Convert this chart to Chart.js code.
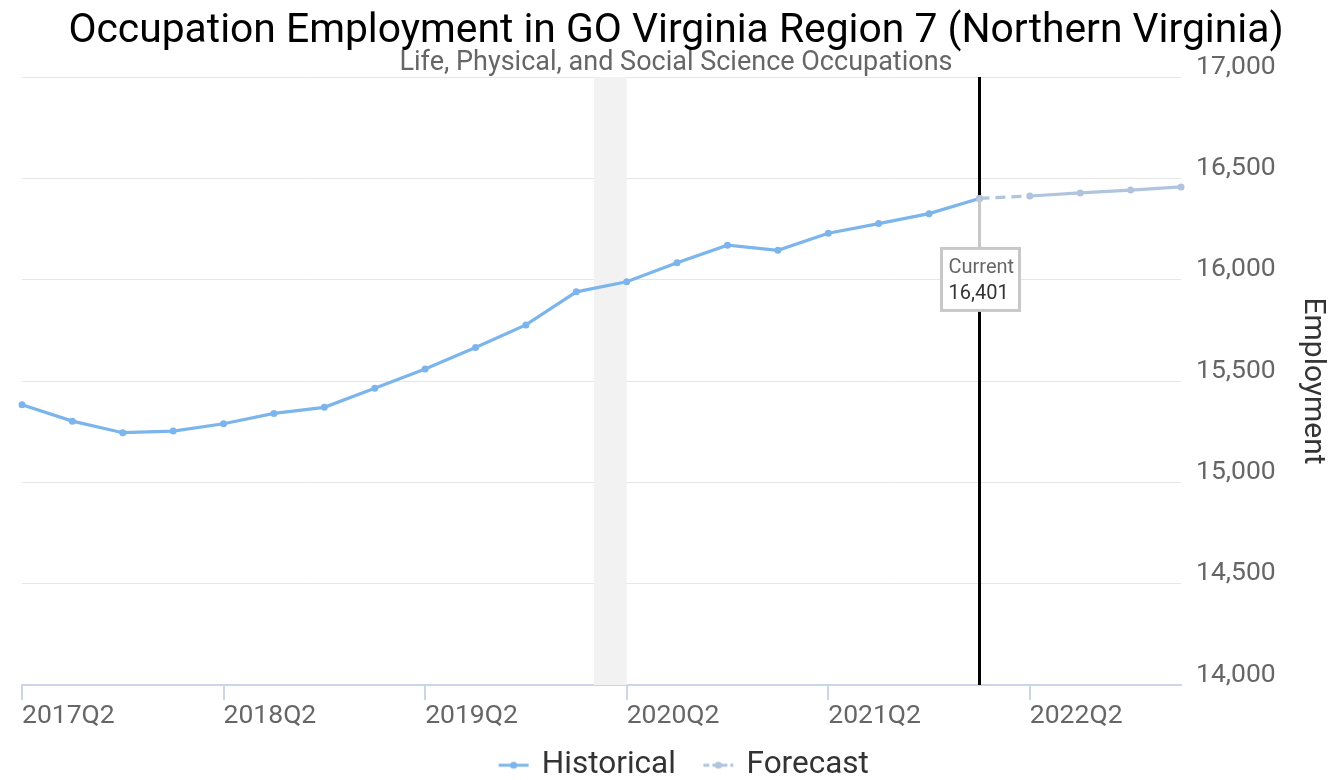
<!DOCTYPE html>
<html>
<head>
<meta charset="utf-8">
<script src="https://cdn.jsdelivr.net/npm/chart.js@4"></script>
<style>
  html, body { margin: 0; padding: 0; background: #fff; }
  #wrap { width: 1330px; height: 780px; }
</style>
</head>
<body>
<div id="wrap"><canvas id="empChart" width="1330" height="780"></canvas></div>
<script>
/* ================= DATA ================= */

const quarters = [
  "2017Q2", "2017Q3", "2017Q4", "2018Q1", "2018Q2", "2018Q3", "2018Q4", "2019Q1",
  "2019Q2", "2019Q3", "2019Q4", "2020Q1", "2020Q2", "2020Q3", "2020Q4", "2021Q1",
  "2021Q2", "2021Q3", "2021Q4", "2022Q1", "2022Q2", "2022Q3", "2022Q4", "2023Q1"
];

const historical = [
  15383, 15302, 15245, 15253, 15289, 15340, 15370, 15464,
  15559, 15665, 15777, 15940, 15990, 16084, 16170, 16145,
  16229, 16277, 16326, 16401
];

// starts at the last historical quarter
const forecast = [16401, 16413, 16428, 16442, 16458];

const yTicks = [14000, 14500, 15000, 15500, 16000, 16500, 17000];

// recession shading, in quarter-index units (Feb 2020 -> Apr 2020)
const recessionBand = [11.35, 12];

const currentIndex = historical.length - 1;

/* ================= HELPERS ================= */

const histColor = "#7cb5ec";
const foreColor = "#b0c4de";

const histData = quarters.map((q, i) => (i < historical.length ? historical[i] : null));
const foreData = quarters.map((q, i) => {
  const k = i - currentIndex;
  return k >= 0 && k < forecast.length ? forecast[k] : null;
});

// legend marker: transparent lead-in on the left gives the gap between items
function legendSymbol(color, dashed) {
  const c = document.createElement("canvas");
  c.width = 60;
  c.height = 10;
  const g = c.getContext("2d");
  const x0 = 24, x1 = 54;
  g.strokeStyle = color;
  g.lineWidth = 3;
  if (dashed) g.setLineDash([6, 3]);
  g.beginPath();
  g.moveTo(x0, 5);
  g.lineTo(x1, 5);
  g.stroke();
  g.fillStyle = color;
  g.beginPath();
  g.arc((x0 + x1) / 2, 5, 3.5, 0, Math.PI * 2);
  g.fill();
  return c;
}

const symbols = [legendSymbol(histColor, false), legendSymbol(foreColor, true)];

/* ================= PLUGINS ================= */

const overlayPlugin = {
  id: "overlay",
  beforeDatasetsDraw(chart) {
    const { ctx, chartArea, scales } = chart;
    const x = scales.x;

    // recession band
    const b0 = x.getPixelForValue(recessionBand[0]);
    const b1 = x.getPixelForValue(recessionBand[1]);
    ctx.save();
    ctx.fillStyle = "#f2f2f2";
    ctx.fillRect(b0, chartArea.top, b1 - b0, chartArea.bottom - chartArea.top);

    // current quarter marker
    const cx = Math.round(x.getPixelForValue(currentIndex)) + 0.5;
    ctx.strokeStyle = "#000";
    ctx.lineWidth = 3;
    ctx.beginPath();
    ctx.moveTo(cx, chartArea.top);
    ctx.lineTo(cx, chartArea.bottom);
    ctx.stroke();
    ctx.restore();
  },
  afterDatasetsDraw(chart) {
    const { ctx, scales } = chart;
    const value = historical[currentIndex];
    const px = Math.round(scales.x.getPixelForValue(currentIndex)) + 0.5;
    const py = scales.y.getPixelForValue(value);

    const w = 78, h = 62;
    const top = py + 50;
    const left = px - w / 2 + 1;

    ctx.save();
    ctx.strokeStyle = "#c8c8c8";
    ctx.lineWidth = 3;
    ctx.beginPath();
    ctx.moveTo(px, py);
    ctx.lineTo(px, top);
    ctx.stroke();

    ctx.fillStyle = "#fff";
    ctx.fillRect(left, top, w, h);
    ctx.strokeRect(left, top, w, h);

    ctx.textAlign = "left";
    ctx.textBaseline = "middle";
    ctx.font = "20px Roboto";
    ctx.fillStyle = "#666";
    ctx.fillText("Current", left + 7, top + 20);
    ctx.fillStyle = "#333";
    ctx.fillText(value.toLocaleString("en-US"), left + 7, top + 46);
    ctx.restore();
  }
};

/* ================= CHART ================= */

const ctx = document.getElementById("empChart").getContext("2d");

new Chart(ctx, {
  type: "line",
  data: {
    labels: quarters,
    datasets: [
      {
        label: "Historical",
        data: histData,
        borderColor: histColor,
        backgroundColor: histColor,
        borderWidth: 3.2,
        pointRadius: 3.5,
        pointBorderWidth: 0,
        pointBackgroundColor: histColor,
        tension: 0,
        order: 1
      },
      {
        label: "Forecast",
        data: foreData,
        borderColor: foreColor,
        backgroundColor: foreColor,
        borderWidth: 3.2,
        pointRadius: 3.5,
        pointBorderWidth: 0,
        pointBackgroundColor: foreColor,
        tension: 0,
        order: 0,
        segment: {
          borderDash: (s) => (s.p0DataIndex === currentIndex ? [10, 6] : undefined)
        }
      }
    ]
  },
  options: {
    responsive: false,
    animation: false,
    devicePixelRatio: 1,
    layout: {
      padding: { left: 22, right: 0, top: 0, bottom: -11 }
    },
    plugins: {
      title: {
        display: true,
        text: "Occupation Employment in GO Virginia Region 7 (Northern Virginia)",
        color: "#000",
        font: { family: "Roboto", size: 40.8, weight: "normal", lineHeight: 1.05 },
        padding: { top: 10, bottom: 0 }
      },
      subtitle: {
        display: true,
        text: "Life, Physical, and Social Science Occupations",
        color: "#666",
        font: { family: "Roboto", size: 27, weight: "normal", lineHeight: 0.6 },
        padding: { top: 2, bottom: 6 }
      },
      legend: {
        position: "bottom",
        labels: {
          color: "#333",
          font: { family: "Roboto", size: 31.5 },
          usePointStyle: true,
          pointStyleWidth: 43,
          padding: 12,
          sort: (a, b) => a.datasetIndex - b.datasetIndex,
          generateLabels: (chart) => {
            const items = Chart.defaults.plugins.legend.labels.generateLabels(chart);
            items.forEach((it) => {
              it.pointStyle = symbols[it.datasetIndex];
            });
            return items;
          }
        }
      },
      tooltip: { enabled: false }
    },
    scales: {
      x: {
        type: "category",
        offset: false,
        afterBuildTicks: (scale) => {
          scale.ticks = scale.ticks.filter((t) => t.value % 4 === 0);
        },
        afterFit: (scale) => {
          scale.height = 52.5;
        },
        grid: {
          display: true,
          drawOnChartArea: false,
          color: "#ccd6eb",
          lineWidth: 2,
          tickLength: 15
        },
        border: { color: "#ccd6eb", width: 2 },
        ticks: {
          autoSkip: false,
          maxRotation: 0,
          align: "start",
          padding: 0,
          color: "#666",
          font: { family: "Roboto", size: 26.5 }
        }
      },
      y: {
        position: "right",
        min: yTicks[0],
        max: yTicks[yTicks.length - 1],
        afterBuildTicks: (scale) => {
          scale.ticks = yTicks.map((v) => ({ value: v }));
        },
        afterFit: (scale) => {
          scale.width = 149;
        },
        grid: {
          color: "#e6e6e6",
          lineWidth: 1,
          drawTicks: false
        },
        border: { display: false },
        ticks: {
          padding: 15,
          labelOffset: -10,
          color: "#666",
          font: { family: "Roboto", size: 26.5 },
          callback: (v) => Number(v).toLocaleString("en-US")
        },
        title: {
          display: true,
          text: "Employment",
          color: "#333",
          font: { family: "Roboto", size: 30 },
          padding: { top: 0, bottom: 0 }
        }
      }
    }
  },
  plugins: [overlayPlugin]
});
</script>
</body>
</html>
